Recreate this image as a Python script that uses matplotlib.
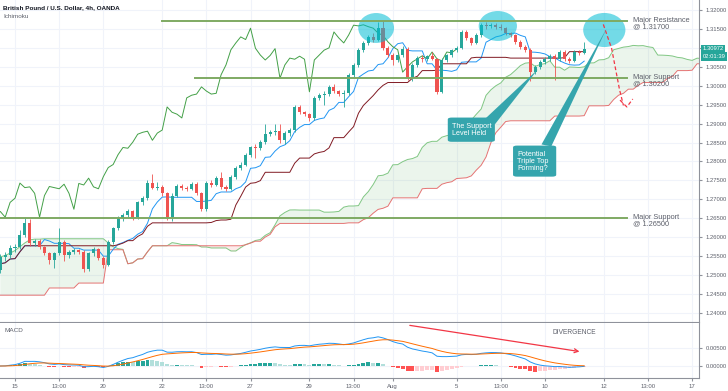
import numpy as np
import pandas as pd
import matplotlib
matplotlib.use("Agg")
import matplotlib.pyplot as plt
from matplotlib.patches import Ellipse, FancyBboxPatch, Polygon

plt.rcParams['font.family'] = ['Liberation Sans', 'DejaVu Sans']

# --- 4h candles, GBP/USD ---
opens = [1.2513, 1.2547, 1.2552, 1.2571, 1.2573, 1.2605, 1.2637, 1.2584, 1.2589, 1.2573,
         1.2558, 1.2539, 1.2558, 1.2587, 1.2552, 1.2560, 1.2565, 1.2562, 1.2515, 1.2558,
         1.2568, 1.2545, 1.2528, 1.2587, 1.2624, 1.2650, 1.2658, 1.2668, 1.2653, 1.2692,
         1.2703, 1.2743, 1.2731, 1.2733, 1.2716, 1.2653, 1.2710, 1.2734, 1.2731, 1.2728,
         1.2740, 1.2716, 1.2674, 1.2742, 1.2738, 1.2756, 1.2733, 1.2728, 1.2760, 1.2784,
         1.2792, 1.2818, 1.2837, 1.2835, 1.2851, 1.2872, 1.2877, 1.2880, 1.2856, 1.2875,
         1.2883, 1.2944, 1.2930, 1.2925, 1.2915, 1.2968, 1.2975, 1.2978, 1.2997, 1.2986,
         1.2978, 1.2980, 1.3029, 1.3055, 1.3095, 1.3113, 1.3129, 1.3122, 1.3152, 1.3099,
         1.3081, 1.3068, 1.3080, 1.3098, 1.3020, 1.3055, 1.3073, 1.3070, 1.3078, 1.3070,
         1.2984, 1.3068, 1.3081, 1.3094, 1.3100, 1.3142, 1.3126, 1.3113, 1.3134, 1.3160,
         1.3158, 1.3161, 1.3156, 1.3152, 1.3139, 1.3133, 1.3116, 1.3103, 1.3095, 1.3036,
         1.3050, 1.3063, 1.3071, 1.3079, 1.3071, 1.3089, 1.3071, 1.3066, 1.3089, 1.3087]
closes = [1.2547, 1.2552, 1.2571, 1.2573, 1.2605, 1.2637, 1.2584, 1.2589, 1.2573, 1.2558,
          1.2539, 1.2558, 1.2587, 1.2552, 1.2560, 1.2565, 1.2562, 1.2515, 1.2558, 1.2568,
          1.2545, 1.2528, 1.2587, 1.2624, 1.2650, 1.2658, 1.2668, 1.2653, 1.2692, 1.2703,
          1.2743, 1.2731, 1.2733, 1.2716, 1.2653, 1.2710, 1.2734, 1.2731, 1.2728, 1.2740,
          1.2716, 1.2674, 1.2742, 1.2738, 1.2756, 1.2733, 1.2728, 1.2760, 1.2784, 1.2792,
          1.2818, 1.2837, 1.2835, 1.2851, 1.2872, 1.2877, 1.2880, 1.2856, 1.2875, 1.2883,
          1.2944, 1.2930, 1.2925, 1.2915, 1.2968, 1.2975, 1.2978, 1.2997, 1.2986, 1.2978,
          1.2980, 1.3029, 1.3055, 1.3095, 1.3113, 1.3129, 1.3122, 1.3152, 1.3099, 1.3081,
          1.3068, 1.3080, 1.3098, 1.3020, 1.3055, 1.3073, 1.3070, 1.3078, 1.3070, 1.2984,
          1.3068, 1.3081, 1.3094, 1.3100, 1.3142, 1.3126, 1.3113, 1.3134, 1.3160, 1.3158,
          1.3161, 1.3156, 1.3152, 1.3139, 1.3133, 1.3116, 1.3103, 1.3095, 1.3036, 1.3050,
          1.3063, 1.3071, 1.3079, 1.3071, 1.3089, 1.3071, 1.3066, 1.3089, 1.3087, 1.3097]
highs = [1.2555, 1.2560, 1.2580, 1.2582, 1.2618, 1.2650, 1.2648, 1.2596, 1.2595, 1.2578,
         1.2562, 1.2562, 1.2624, 1.2592, 1.2565, 1.2572, 1.2570, 1.2566, 1.2562, 1.2574,
         1.2572, 1.2550, 1.2592, 1.2628, 1.2655, 1.2664, 1.2674, 1.2672, 1.2696, 1.2710,
         1.2750, 1.2768, 1.2745, 1.2738, 1.2720, 1.2716, 1.2740, 1.2740, 1.2736, 1.2746,
         1.2745, 1.2720, 1.2748, 1.2752, 1.2762, 1.2771, 1.2738, 1.2764, 1.2788, 1.2798,
         1.2822, 1.2842, 1.2845, 1.2856, 1.2900, 1.2884, 1.2900, 1.2900, 1.2880, 1.2888,
         1.2948, 1.2950, 1.2934, 1.2928, 1.2972, 1.2980, 1.2985, 1.3002, 1.3004, 1.2990,
         1.2990, 1.3034, 1.3060, 1.3100, 1.3118, 1.3134, 1.3138, 1.3168, 1.3172, 1.3104,
         1.3086, 1.3085, 1.3104, 1.3102, 1.3060, 1.3078, 1.3080, 1.3082, 1.3090, 1.3074,
         1.3072, 1.3084, 1.3098, 1.3106, 1.3146, 1.3148, 1.3130, 1.3138, 1.3166, 1.3168,
         1.3166, 1.3165, 1.3162, 1.3156, 1.3142, 1.3136, 1.3120, 1.3108, 1.3099, 1.3054,
         1.3068, 1.3076, 1.3084, 1.3084, 1.3094, 1.3094, 1.3075, 1.3094, 1.3095, 1.3115]
lows = [1.2505, 1.2538, 1.2545, 1.2562, 1.2568, 1.2600, 1.2578, 1.2578, 1.2568, 1.2552,
        1.2530, 1.2518, 1.2552, 1.2536, 1.2545, 1.2555, 1.2556, 1.2508, 1.2510, 1.2550,
        1.2540, 1.2520, 1.2524, 1.2582, 1.2618, 1.2644, 1.2652, 1.2646, 1.2648, 1.2686,
        1.2698, 1.2728, 1.2725, 1.2710, 1.2645, 1.2643, 1.2705, 1.2726, 1.2722, 1.2724,
        1.2712, 1.2668, 1.2670, 1.2732, 1.2734, 1.2728, 1.2722, 1.2724, 1.2755, 1.2778,
        1.2788, 1.2812, 1.2810, 1.2830, 1.2846, 1.2866, 1.2870, 1.2850, 1.2845, 1.2868,
        1.2878, 1.2926, 1.2920, 1.2908, 1.2910, 1.2962, 1.2950, 1.2972, 1.2982, 1.2972,
        1.2944, 1.2975, 1.3024, 1.3050, 1.3090, 1.3108, 1.3115, 1.3118, 1.3095, 1.3076,
        1.3055, 1.3062, 1.3075, 1.3015, 1.3012, 1.3050, 1.3064, 1.3066, 1.3068, 1.2978,
        1.2980, 1.3062, 1.3076, 1.3090, 1.3096, 1.3120, 1.3108, 1.3110, 1.3130, 1.3150,
        1.3152, 1.3150, 1.3146, 1.3134, 1.3128, 1.3110, 1.3098, 1.3090, 1.3012, 1.3030,
        1.3045, 1.3058, 1.3066, 1.3015, 1.3066, 1.3066, 1.3060, 1.3062, 1.3082, 1.3084]

# cloud values on the first 26 bars (come from data before the window)
span_a_early = [1.2548, 1.2552, 1.2558, 1.2565, 1.2575, 1.2585, 1.2593, 1.2595, 1.2595, 1.2596,
                1.2596, 1.2596, 1.2596, 1.2596, 1.2596, 1.2596, 1.2596, 1.2596, 1.2596, 1.2596,
                1.2596, 1.2596, 1.2585, 1.2575, 1.2570, 1.2568]
span_b_early = [1.2447, 1.2447, 1.2447, 1.2447, 1.2447, 1.2447, 1.2447, 1.2447, 1.2447, 1.2447,
                1.2466, 1.2466, 1.2466, 1.2466, 1.2466, 1.2466, 1.2479, 1.2479, 1.2479, 1.2479,
                1.2479, 1.2479, 1.2567, 1.2567, 1.2567, 1.2567]

tick_bars = [3, 12, 21, 33, 42, 51, 63, 72, 80, 93, 102, 111, 123, 132, 141]
tick_labels = ["15", "13:00", "20", "22", "13:00", "27", "29", "13:00", "Aug",
               "5", "13:00", "10", "12", "13:00", "17"]
price_ticks = [1.240, 1.245, 1.250, 1.255, 1.260, 1.265, 1.270, 1.275, 1.280,
               1.285, 1.290, 1.295, 1.300, 1.305, 1.310, 1.315, 1.320]
macd_ticks = [0.0, 0.005]

levels = [1.3170, 1.3020, 1.2650]
level_start = [33, 39.7, -1]
level_labels = ["Major Resistance\n@ 1.31700", "Major Support\n@ 1.30200", "Major Support\n@ 1.26500"]
last_price = 1.30972
countdown = "02:01:39"

# --- indicators ---
df = pd.DataFrame({"o": opens, "h": highs, "l": lows, "c": closes})
n = len(df)
tenkan = (df.h.rolling(9, min_periods=1).max() + df.l.rolling(9, min_periods=1).min()) / 2
kijun = (df.h.rolling(26, min_periods=1).max() + df.l.rolling(26, min_periods=1).min()) / 2
mid52 = (df.h.rolling(52, min_periods=1).max() + df.l.rolling(52, min_periods=1).min()) / 2
span_a = np.concatenate([span_a_early, ((tenkan + kijun) / 2).values])
span_b = np.concatenate([span_b_early, mid52.values])
xs_cloud = np.arange(len(span_a))

ema12 = df.c.ewm(span=12, adjust=False).mean()
ema26 = df.c.ewm(span=26, adjust=False).mean()
macd = ema12 - ema26
signal = macd.ewm(span=9, adjust=False).mean()
hist = macd - signal

UP, DOWN = "#26A69A", "#EF5350"
GRID = "#F0F3FA"
TXT = "#5D606B"
AXC = "#8F929B"

fig = plt.figure(figsize=(7.28, 3.91), dpi=100)
ax = fig.add_axes([0, 69 / 391, 699 / 728, 322 / 391])
axm = fig.add_axes([0, 13 / 391, 699 / 728, 55 / 391])

xlim = (-0.06, 142.4)
for a in (ax, axm):
    a.set_xlim(*xlim)
    a.set_xticks(tick_bars)
    for t in tick_bars:
        a.axvline(t, color=GRID, lw=0.8, zorder=0)
    for s in ("left", "top"):
        a.spines[s].set_visible(False)
    a.spines["right"].set_color(AXC)
    a.spines["bottom"].set_color(AXC)
    a.yaxis.tick_right()
    a.tick_params(axis="y", labelsize=4.2, labelcolor=TXT, color=AXC, length=2, pad=2.5)
    a.tick_params(axis="x", labelsize=4.3, labelcolor=TXT, color=AXC, length=2, pad=2.5)

ax.set_ylim(1.23762, 1.32264)
ax.set_yticks(price_ticks)
# the 1.31000 label sits under the last-price tag
ax.set_yticklabels(["" if abs(p - 1.31) < 1e-9 else f"{p:.5f}" for p in price_ticks])
ax.set_xticklabels([])
ax.tick_params(axis="x", length=0)
for p in price_ticks:
    ax.axhline(p, color=GRID, lw=0.8, zorder=0)

# cloud
ax.fill_between(xs_cloud, span_a, span_b, where=span_a >= span_b, interpolate=True,
                color="#43A047", alpha=0.1, lw=0, zorder=1)
ax.fill_between(xs_cloud, span_a, span_b, where=span_a < span_b, interpolate=True,
                color="#F44336", alpha=0.1, lw=0, zorder=1)
ax.plot(xs_cloud, span_a, color="#81C784", lw=0.7, zorder=2)
ax.plot(xs_cloud, span_b, color="#E57373", lw=0.7, zorder=2)

# lines
ax.plot(np.arange(n), tenkan, color="#2196F3", lw=0.7, zorder=3)
ax.plot(np.arange(n), kijun, color="#801922", lw=0.7, zorder=3)
ax.plot(np.arange(n) - 26, df.c, color="#43A047", lw=0.7, zorder=3)

# candles
cols = [UP if c >= o else DOWN for o, c in zip(opens, closes)]
ax.vlines(np.arange(n), lows, highs, colors=cols, lw=0.6, zorder=4)
body = [max(abs(c - o), 0.00012) for o, c in zip(opens, closes)]
ax.bar(np.arange(n), body, bottom=np.minimum(opens, closes), width=0.62, color=cols, lw=0, zorder=5)

# levels
for lv, st, lab in zip(levels, level_start, level_labels):
    ax.plot([st, 127.7], [lv, lv], color="#7FAA63", lw=1.4, zorder=6)
    ax.text(128.9, lv + 0.0012, lab, fontsize=5.3, color=TXT, va="top", ha="left",
            linespacing=0.95, zorder=7)

# highlight circles
for cx, cy, w, h in [(76.6, 1.31525, 7.3, 0.0079), (101.4, 1.31578, 7.8, 0.0079),
                     (123.1, 1.31472, 8.6, 0.0090)]:
    ax.add_patch(Ellipse((cx, cy), w, h, facecolor="#00BCD4", alpha=0.55, lw=0, zorder=5.5))

# projected move
ax.plot([122.9, 124.6, 126.2, 127.0], [1.31620, 1.3098, 1.2990, 1.2948],
        color="#F23645", lw=0.9, ls=(0, (3, 2)), zorder=7)
ax.plot([126.3, 127.7, 128.9], [1.2962, 1.2944, 1.2965], color="#F23645", lw=0.9,
        ls=(0, (3, 2)), zorder=7)

# callouts
CALL = "#35A5AD"
ax.add_patch(Polygon([(99.0, 1.2915), (100.8, 1.2898), (109.6, 1.3044)], closed=True,
                     facecolor=CALL, lw=0, zorder=8))
ax.add_patch(FancyBboxPatch((91.2, 1.2852), 9.6, 0.0064, boxstyle="round,pad=0,rounding_size=0.8",
                            mutation_aspect=0.0006, facecolor=CALL, lw=0, zorder=8))
ax.text(92.0, 1.2884, "The Support\nLevel Held", color="white", fontsize=5.2, va="center",
        ha="left", linespacing=1.0, zorder=9)

ax.add_patch(Polygon([(110.3, 1.2845), (112.3, 1.2840), (123.6, 1.31520)], closed=True,
                     facecolor=CALL, lw=0, zorder=8))
ax.add_patch(FancyBboxPatch((104.5, 1.2760), 8.8, 0.0082, boxstyle="round,pad=0,rounding_size=0.8",
                            mutation_aspect=0.0006, facecolor=CALL, lw=0, zorder=8))
ax.text(105.4, 1.2801, "Potential\nTriple Top\nForming?", color="white", fontsize=5.2,
        va="center", ha="left", linespacing=1.0, zorder=9)

# header text
ax.text(0.005, 0.985, "British Pound / U.S. Dollar, 4h, OANDA", transform=ax.transAxes,
        fontsize=4.6, fontweight="bold", color="#131722", va="top", ha="left")
ax.text(0.005, 0.957, "Ichimoku", transform=ax.transAxes, fontsize=4.6, color=TXT,
        va="top", ha="left")

# last price tags
ax.annotate(f"{last_price:.5f}", xy=(1.0, last_price), xycoords=("axes fraction", "data"),
            xytext=(2.5, 0), textcoords="offset points", fontsize=4.2, color="white",
            va="center", ha="left", annotation_clip=False, zorder=10,
            bbox=dict(boxstyle="square,pad=0.3", fc=UP, ec="none"))
ax.annotate(countdown, xy=(1.0, last_price), xycoords=("axes fraction", "data"),
            xytext=(2.5, -5.4), textcoords="offset points", fontsize=4.2, color="white",
            va="center", ha="left", annotation_clip=False, zorder=10,
            bbox=dict(boxstyle="square,pad=0.3", fc=UP, ec="none"))

# --- MACD pane ---
axm.set_ylim(-0.00333, 0.01194)
axm.set_yticks(macd_ticks)
axm.set_yticklabels([f"{v:.5f}" for v in macd_ticks])
axm.set_xticklabels(tick_labels)
for v in macd_ticks:
    axm.axhline(v, color=GRID, lw=0.8, zorder=0)
hcols = []
for i, hv in enumerate(hist):
    prev = hist.iloc[i - 1] if i > 0 else hv
    if hv >= 0:
        hcols.append("#26A69A" if hv > prev else "#B2DFDB")
    else:
        hcols.append("#FF5252" if hv < prev else "#FFCDD2")
axm.bar(np.arange(n), hist, width=0.8, color=hcols, lw=0, zorder=2)
axm.plot(np.arange(n), macd, color="#2196F3", lw=0.7, zorder=3)
axm.plot(np.arange(n), signal, color="#FF6D00", lw=0.7, zorder=3)
axm.text(0.007, 0.86, "MACD", transform=axm.transAxes, fontsize=4.6, color=TXT,
         va="center", ha="left")
axm.annotate("", xy=(118.6, 0.0039), xytext=(82.9, 0.0114),
             arrowprops=dict(arrowstyle="->", color="#F23645", lw=0.9, mutation_scale=7))
axm.text(116.9, 0.0094, "DIVERGENCE", fontsize=4.8, color=TXT, ha="center", va="center")

fig.savefig("out.png", dpi=100)
